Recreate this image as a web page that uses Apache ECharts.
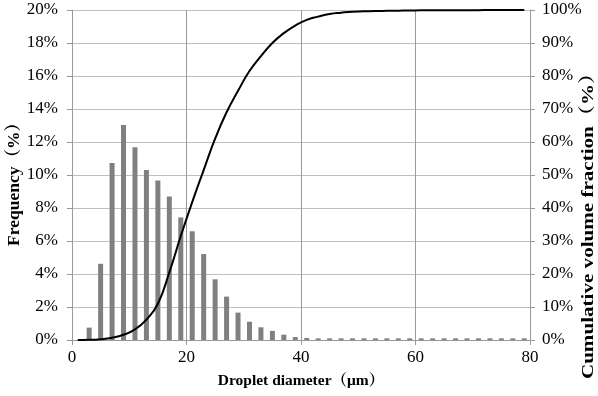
<!DOCTYPE html>
<html>
<head>
<meta charset="utf-8">
<script src="https://cdn.jsdelivr.net/npm/echarts@6/dist/echarts.min.js"></script>
<style>html,body{margin:0;padding:0;background:#fff;}#c{width:598px;height:396px;}</style>
</head>
<body>
<div id="c"></div>
<script>
const diameters = [1,3,5,7,9,11,13,15,17,19,21,23,25,27,29,31,33,35,37,39,41,43,45,47,49,51,53,55,57,59,61,63,65,67,69,71,73,75,77,79];
const frequency = [0,0.75,4.62,10.73,13.03,11.68,10.30,9.66,8.69,7.43,6.59,5.21,3.68,2.63,1.66,1.11,0.77,0.55,0.32,0.18,0.12,0.1,0.1,0.1,0.1,0.1,0.1,0.1,0.1,0.1,0.1,0.1,0.1,0.1,0.1,0.1,0.1,0.1,0.1,0.1];
const cumulative = [0,0.05,0.25,0.7,1.6,3.2,6.2,11,20.5,31.5,41.8,51.5,61,69,75.5,81.5,86,90,93,95.3,97,98,98.8,99.2,99.5,99.6,99.7,99.75,99.8,99.85,99.9,99.9,99.92,99.94,99.95,99.96,99.97,99.98,99.99,100];
const xTicks = {min:0, max:80, interval:20};
const leftTicks = {min:0, max:20, interval:2};
const rightTicks = {min:0, max:100, interval:10};
const xTitle = 'Droplet diameter（μm）';
const leftTitle = 'Frequency（%）';
const rightTitle = 'Cumulative volume fraction（%）';

const serif = "'Liberation Serif', 'Times New Roman', 'Noto Serif CJK JP', 'Noto Sans CJK JP', serif";
const chart = echarts.init(document.getElementById('c'), null, {renderer:'canvas'});
const freqData = diameters.map((d,i)=>[d, frequency[i]]);
const cumData = diameters.map((d,i)=>[d, cumulative[i]]);
chart.setOption({
  animation:false,
  backgroundColor:'#fff',
  grid:{left:72, right:68, top:10, bottom:56, containLabel:false, outerBoundsMode:'none'},
  graphic:[{
    type:'text', x:15, y:180, rotation:Math.PI/2, scaleX:1.03,
    style:{text:leftTitle, fontFamily:serif, fontWeight:'bold', fontSize:17, fill:'#000', align:'center', verticalAlign:'middle'}
  },{
    type:'text', x:589, y:221, rotation:Math.PI/2, scaleX:1.24,
    style:{text:rightTitle, fontFamily:serif, fontWeight:'bold', fontSize:17, fill:'#000', align:'center', verticalAlign:'middle'}
  }],
  xAxis:{
    type:'value', min:xTicks.min, max:xTicks.max, interval:xTicks.interval,
    name:xTitle, nameLocation:'middle', nameGap:33,
    nameTextStyle:{fontFamily:serif, fontWeight:'bold', fontSize:15.5, color:'#000'},
    axisLine:{show:true, lineStyle:{color:'#9a9a9a', width:1}},
    axisTick:{show:true, length:5, lineStyle:{color:'#9a9a9a'}},
    axisLabel:{fontFamily:serif, fontSize:17, color:'#000', margin:9},
    splitLine:{show:true, lineStyle:{color:'#9a9a9a', width:1}}
  },
  yAxis:[{
    type:'value', min:leftTicks.min, max:leftTicks.max, interval:leftTicks.interval, position:'left',
    axisLine:{show:true, lineStyle:{color:'#9a9a9a', width:1}},
    axisTick:{show:true, length:5, lineStyle:{color:'#9a9a9a'}},
    axisLabel:{fontFamily:serif, fontSize:17, color:'#000', margin:14, formatter:'{value}%'},
    splitLine:{show:true, lineStyle:{color:'#c0c0c0', width:1}}
  },{
    type:'value', min:rightTicks.min, max:rightTicks.max, interval:rightTicks.interval, position:'right',
    axisLine:{show:true, lineStyle:{color:'#9a9a9a', width:1}},
    axisTick:{show:true, length:5, lineStyle:{color:'#9a9a9a'}},
    axisLabel:{fontFamily:serif, fontSize:17, color:'#000', margin:12, formatter:'{value}%'},
    splitLine:{show:false}
  }],
  series:[{
    type:'bar', yAxisIndex:0, data:freqData, barWidth:5,
    itemStyle:{color:'#808080'}
  },{
    type:'line', yAxisIndex:1, data:cumData, smooth:true, symbol:'none',
    lineStyle:{color:'#000', width:2}
  }]
});
</script>
</body>
</html>
